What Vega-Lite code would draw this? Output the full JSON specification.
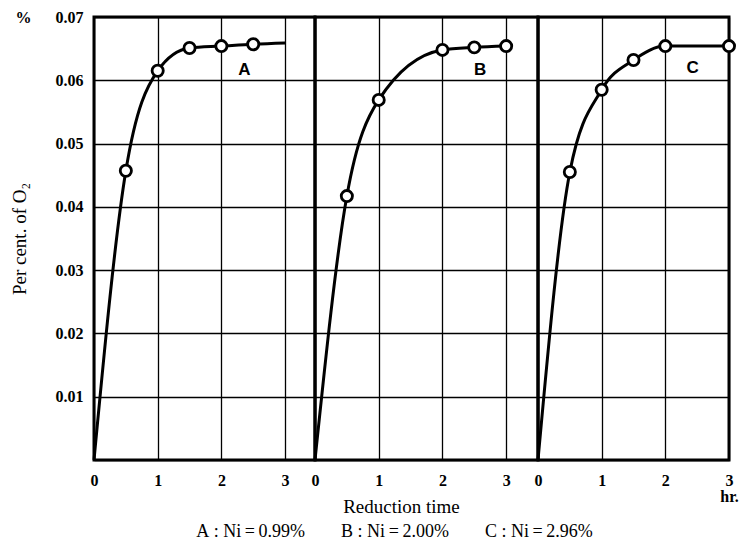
{
  "$schema": "https://vega.github.io/schema/vega-lite/v6.json",
  "background": "white",
  "padding": {"left": 8, "top": 7, "right": 4, "bottom": 2},
  "spacing": 0,
  "bounds": "flush",
  "datasets": {
    "curves": [
      {"panel": "A", "t": 0, "o2": 0, "marker": false},
      {"panel": "A", "t": 0.5, "o2": 0.0457, "marker": true},
      {"panel": "A", "t": 1, "o2": 0.0615, "marker": true},
      {"panel": "A", "t": 1.5, "o2": 0.0651, "marker": true},
      {"panel": "A", "t": 2, "o2": 0.0654, "marker": true},
      {"panel": "A", "t": 2.5, "o2": 0.0657, "marker": true},
      {"panel": "A", "t": 3, "o2": 0.0659, "marker": false},
      {"panel": "B", "t": 0, "o2": 0, "marker": false},
      {"panel": "B", "t": 0.5, "o2": 0.0417, "marker": true},
      {"panel": "B", "t": 1, "o2": 0.0569, "marker": true},
      {"panel": "B", "t": 2, "o2": 0.0648, "marker": true},
      {"panel": "B", "t": 2.5, "o2": 0.0652, "marker": true},
      {"panel": "B", "t": 3, "o2": 0.0654, "marker": true},
      {"panel": "C", "t": 0, "o2": 0, "marker": false},
      {"panel": "C", "t": 0.5, "o2": 0.0455, "marker": true},
      {"panel": "C", "t": 1, "o2": 0.0585, "marker": true},
      {"panel": "C", "t": 1.5, "o2": 0.0632, "marker": true},
      {"panel": "C", "t": 2, "o2": 0.0654, "marker": true},
      {"panel": "C", "t": 3, "o2": 0.0654, "marker": true}
    ],
    "tags": [
      {"panel": "A", "t": 2.36, "o2": 0.0617, "label": "A"},
      {"panel": "B", "t": 2.59, "o2": 0.0616, "label": "B"},
      {"panel": "C", "t": 2.43, "o2": 0.0620, "label": "C"}
    ]
  },
  "hconcat": [
    {
      "width": 221,
      "height": 443,
      "layer": [
        {
          "data": {"name": "curves"},
          "transform": [{"filter": "datum.panel === 'A'"}],
          "mark": {"type": "line", "interpolate": "monotone", "color": "black", "strokeWidth": 3},
          "encoding": {
            "x": {"field": "t", "type": "quantitative", "scale": {"domain": [0, 3.47], "nice": false},
              "axis": {"values": [0, 1, 2, 3], "format": "d",
                "title": "A\u00a0:\u00a0Ni\u2009=\u20090.99%\u00a0\u00a0\u00a0\u00a0\u00a0\u00a0\u00a0\u00a0B\u00a0:\u00a0Ni\u2009=\u20092.00%\u00a0\u00a0\u00a0\u00a0\u00a0\u00a0\u00a0\u00a0C\u00a0:\u00a0Ni\u2009=\u20092.96%",
                "titleX": 300, "titleY": 71, "titleAlign": "center", "titleBaseline": "middle",
                "titleFont": "Liberation Serif", "titleFontSize": 18, "titleFontWeight": "normal", "titleColor": "black"}},
            "y": {"field": "o2", "type": "quantitative", "scale": {"domain": [0, 0.07], "nice": false},
              "axis": {"values": [0, 0.01, 0.02, 0.03, 0.04, 0.05, 0.06, 0.07],
                "labelExpr": "datum.value < 0.001 ? '' : (datum.value > 0.069 ? '%\u00a0\u00a0\u00a0\u00a0\u00a0\u00a00.07' : format(datum.value, '.2f'))",
                "title": "Per cent. of O₂", "titleX": -65, "titleFontSize": 19, "titleFont": "Liberation Serif", "titleFontWeight": "normal", "titleColor": "black", "labelPadding": 11}}
          }
        },
        {
          "data": {"name": "curves"},
          "transform": [{"filter": "datum.panel === 'A' && datum.marker"}],
          "mark": {"type": "point", "shape": "circle", "filled": true, "fill": "white", "stroke": "black", "strokeWidth": 2.8, "size": 125, "opacity": 1},
          "encoding": {
            "x": {"field": "t", "type": "quantitative"},
            "y": {"field": "o2", "type": "quantitative"}
          }
        },
        {
          "data": {"name": "tags"},
          "transform": [{"filter": "datum.panel === 'A'"}],
          "mark": {"type": "text", "font": "Liberation Sans", "fontWeight": "bold", "fontSize": 17, "color": "black"},
          "encoding": {
            "x": {"field": "t", "type": "quantitative"},
            "y": {"field": "o2", "type": "quantitative"},
            "text": {"field": "label"}
          }
        }
      ]
    },
    {
      "width": 223,
      "height": 443,
      "layer": [
        {
          "data": {"name": "curves"},
          "transform": [{"filter": "datum.panel === 'B'"}],
          "mark": {"type": "line", "interpolate": "monotone", "color": "black", "strokeWidth": 3},
          "encoding": {
            "x": {"field": "t", "type": "quantitative", "scale": {"domain": [0, 3.5], "nice": false},
              "axis": {"values": [0, 1, 2, 3], "format": "d",
                "title": "Reduction time", "titleX": 86, "titleY": 46, "titleAlign": "center", "titleBaseline": "middle",
                "titleFont": "Liberation Serif", "titleFontSize": 19, "titleFontWeight": "normal", "titleColor": "black"}},
            "y": {"field": "o2", "type": "quantitative", "scale": {"domain": [0, 0.07], "nice": false},
              "axis": {"values": [0, 0.01, 0.02, 0.03, 0.04, 0.05, 0.06, 0.07], "labels": false, "title": null}}
          }
        },
        {
          "data": {"name": "curves"},
          "transform": [{"filter": "datum.panel === 'B' && datum.marker"}],
          "mark": {"type": "point", "shape": "circle", "filled": true, "fill": "white", "stroke": "black", "strokeWidth": 2.8, "size": 125, "opacity": 1},
          "encoding": {
            "x": {"field": "t", "type": "quantitative"},
            "y": {"field": "o2", "type": "quantitative"}
          }
        },
        {
          "data": {"name": "tags"},
          "transform": [{"filter": "datum.panel === 'B'"}],
          "mark": {"type": "text", "font": "Liberation Sans", "fontWeight": "bold", "fontSize": 17, "color": "black"},
          "encoding": {
            "x": {"field": "t", "type": "quantitative"},
            "y": {"field": "o2", "type": "quantitative"},
            "text": {"field": "label"}
          }
        }
      ]
    },
    {
      "width": 191,
      "height": 443,
      "layer": [
        {
          "data": {"name": "curves"},
          "transform": [{"filter": "datum.panel === 'C'"}],
          "mark": {"type": "line", "interpolate": "monotone", "color": "black", "strokeWidth": 3},
          "encoding": {
            "x": {"field": "t", "type": "quantitative", "scale": {"domain": [0, 3], "nice": false},
              "axis": {"values": [0, 1, 2, 3], "title": null, "labelLineHeight": 16, "labelExpr": "datum.value == 3 ? ['3', '\u00a0hr.'] : format(datum.value, 'd')"}},
            "y": {"field": "o2", "type": "quantitative", "scale": {"domain": [0, 0.07], "nice": false},
              "axis": {"values": [0, 0.01, 0.02, 0.03, 0.04, 0.05, 0.06, 0.07], "labels": false, "title": null}}
          }
        },
        {
          "data": {"name": "curves"},
          "transform": [{"filter": "datum.panel === 'C' && datum.marker"}],
          "mark": {"type": "point", "shape": "circle", "filled": true, "fill": "white", "stroke": "black", "strokeWidth": 2.8, "size": 125, "opacity": 1},
          "encoding": {
            "x": {"field": "t", "type": "quantitative"},
            "y": {"field": "o2", "type": "quantitative"}
          }
        },
        {
          "data": {"name": "tags"},
          "transform": [{"filter": "datum.panel === 'C'"}],
          "mark": {"type": "text", "font": "Liberation Sans", "fontWeight": "bold", "fontSize": 17, "color": "black"},
          "encoding": {
            "x": {"field": "t", "type": "quantitative"},
            "y": {"field": "o2", "type": "quantitative"},
            "text": {"field": "label"}
          }
        }
      ]
    }
  ],
  "config": {
    "view": {"stroke": "black", "strokeWidth": 3},
    "axis": {
      "domain": false,
      "ticks": false,
      "grid": true,
      "gridColor": "black",
      "gridWidth": 1.3,
      "gridOpacity": 1,
      "labelFont": "Liberation Serif",
      "labelFontWeight": "bold",
      "labelFontSize": 16,
      "labelColor": "black",
      "labelFlush": false,
      "labelOverlap": false,
      "labelLineHeight": 14
    },
    "axisX": {"labelPadding": 12}
  }
}
